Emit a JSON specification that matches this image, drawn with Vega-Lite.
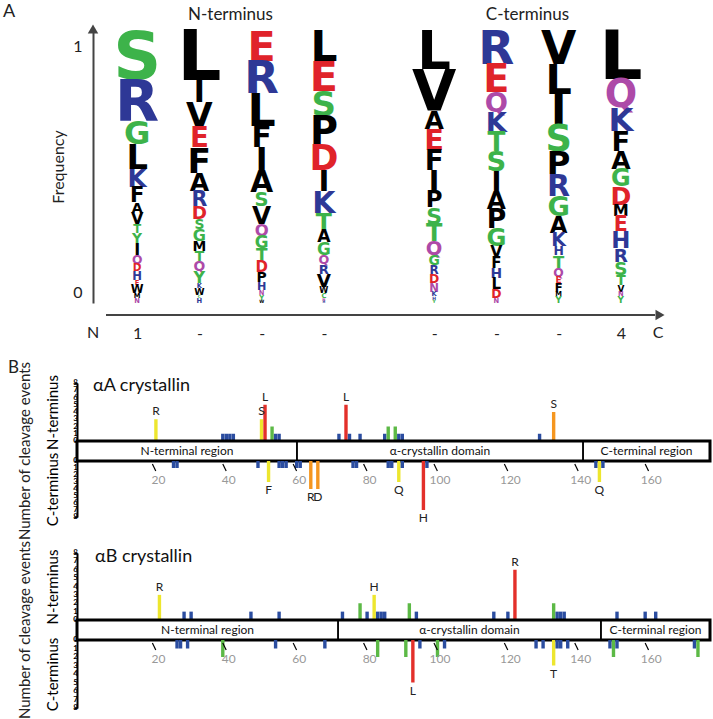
{
  "$schema": "https://vega.github.io/schema/vega-lite/v6.json",
  "padding": {"left": 3, "top": 3, "right": 0, "bottom": 0},
  "autosize": {"type": "pad"},
  "background": "white",
  "config": {
    "view": {"stroke": null},
    "font": "Lato",
    "axis": {"grid": false, "labelFont": "Lato", "titleFont": "Lato"},
    "title": {"font": "Lato"}
  },
  "datasets": {
    "logoN": [
      {"pos": 1, "aa": "S", "freq": 0.178}, {"pos": 1, "aa": "R", "freq": 0.153}, {"pos": 1, "aa": "G", "freq": 0.086}, {"pos": 1, "aa": "L", "freq": 0.090}, {"pos": 1, "aa": "K", "freq": 0.066}, {"pos": 1, "aa": "F", "freq": 0.056}, {"pos": 1, "aa": "A", "freq": 0.039}, {"pos": 1, "aa": "V", "freq": 0.043}, {"pos": 1, "aa": "T", "freq": 0.031}, {"pos": 1, "aa": "Y", "freq": 0.037}, {"pos": 1, "aa": "I", "freq": 0.043}, {"pos": 1, "aa": "Q", "freq": 0.033}, {"pos": 1, "aa": "D", "freq": 0.028}, {"pos": 1, "aa": "H", "freq": 0.031}, {"pos": 1, "aa": "E", "freq": 0.018}, {"pos": 1, "aa": "W", "freq": 0.031}, {"pos": 1, "aa": "M", "freq": 0.018}, {"pos": 1, "aa": "N", "freq": 0.018},
      {"pos": 2, "aa": "L", "freq": 0.184}, {"pos": 2, "aa": "I", "freq": 0.080}, {"pos": 2, "aa": "V", "freq": 0.092}, {"pos": 2, "aa": "E", "freq": 0.074}, {"pos": 2, "aa": "F", "freq": 0.092}, {"pos": 2, "aa": "A", "freq": 0.067}, {"pos": 2, "aa": "R", "freq": 0.055}, {"pos": 2, "aa": "D", "freq": 0.049}, {"pos": 2, "aa": "S", "freq": 0.037}, {"pos": 2, "aa": "G", "freq": 0.043}, {"pos": 2, "aa": "M", "freq": 0.037}, {"pos": 2, "aa": "T", "freq": 0.037}, {"pos": 2, "aa": "Q", "freq": 0.037}, {"pos": 2, "aa": "Y", "freq": 0.043}, {"pos": 2, "aa": "K", "freq": 0.018}, {"pos": 2, "aa": "W", "freq": 0.025}, {"pos": 2, "aa": "C", "freq": 0.012}, {"pos": 2, "aa": "H", "freq": 0.018},
      {"pos": 3, "aa": "E", "freq": 0.110}, {"pos": 3, "aa": "R", "freq": 0.120}, {"pos": 3, "aa": "L", "freq": 0.118}, {"pos": 3, "aa": "F", "freq": 0.079}, {"pos": 3, "aa": "I", "freq": 0.085}, {"pos": 3, "aa": "A", "freq": 0.079}, {"pos": 3, "aa": "S", "freq": 0.052}, {"pos": 3, "aa": "V", "freq": 0.066}, {"pos": 3, "aa": "Q", "freq": 0.044}, {"pos": 3, "aa": "G", "freq": 0.045}, {"pos": 3, "aa": "T", "freq": 0.045}, {"pos": 3, "aa": "D", "freq": 0.040}, {"pos": 3, "aa": "P", "freq": 0.037}, {"pos": 3, "aa": "H", "freq": 0.030}, {"pos": 3, "aa": "N", "freq": 0.018}, {"pos": 3, "aa": "Y", "freq": 0.018}, {"pos": 3, "aa": "W", "freq": 0.012},
      {"pos": 4, "aa": "L", "freq": 0.113}, {"pos": 4, "aa": "E", "freq": 0.110}, {"pos": 4, "aa": "S", "freq": 0.091}, {"pos": 4, "aa": "P", "freq": 0.102}, {"pos": 4, "aa": "D", "freq": 0.093}, {"pos": 4, "aa": "I", "freq": 0.078}, {"pos": 4, "aa": "K", "freq": 0.080}, {"pos": 4, "aa": "T", "freq": 0.063}, {"pos": 4, "aa": "A", "freq": 0.046}, {"pos": 4, "aa": "G", "freq": 0.045}, {"pos": 4, "aa": "Q", "freq": 0.034}, {"pos": 4, "aa": "R", "freq": 0.035}, {"pos": 4, "aa": "V", "freq": 0.049}, {"pos": 4, "aa": "W", "freq": 0.022}, {"pos": 4, "aa": "C", "freq": 0.018}, {"pos": 4, "aa": "N", "freq": 0.010}, {"pos": 4, "aa": "H", "freq": 0.009}
    ],
    "logoC": [
      {"pos": 1, "aa": "L", "freq": 0.141}, {"pos": 1, "aa": "V", "freq": 0.153}, {"pos": 1, "aa": "A", "freq": 0.067}, {"pos": 1, "aa": "E", "freq": 0.077}, {"pos": 1, "aa": "F", "freq": 0.074}, {"pos": 1, "aa": "I", "freq": 0.076}, {"pos": 1, "aa": "P", "freq": 0.061}, {"pos": 1, "aa": "S", "freq": 0.059}, {"pos": 1, "aa": "T", "freq": 0.064}, {"pos": 1, "aa": "Q", "freq": 0.052}, {"pos": 1, "aa": "G", "freq": 0.037}, {"pos": 1, "aa": "R", "freq": 0.032}, {"pos": 1, "aa": "D", "freq": 0.033}, {"pos": 1, "aa": "N", "freq": 0.031}, {"pos": 1, "aa": "K", "freq": 0.018}, {"pos": 1, "aa": "H", "freq": 0.012}, {"pos": 1, "aa": "Y", "freq": 0.012},
      {"pos": 2, "aa": "R", "freq": 0.125}, {"pos": 2, "aa": "E", "freq": 0.102}, {"pos": 2, "aa": "Q", "freq": 0.073}, {"pos": 2, "aa": "K", "freq": 0.073}, {"pos": 2, "aa": "T", "freq": 0.070}, {"pos": 2, "aa": "S", "freq": 0.073}, {"pos": 2, "aa": "I", "freq": 0.071}, {"pos": 2, "aa": "A", "freq": 0.066}, {"pos": 2, "aa": "P", "freq": 0.071}, {"pos": 2, "aa": "G", "freq": 0.065}, {"pos": 2, "aa": "V", "freq": 0.042}, {"pos": 2, "aa": "F", "freq": 0.040}, {"pos": 2, "aa": "H", "freq": 0.037}, {"pos": 2, "aa": "L", "freq": 0.040}, {"pos": 2, "aa": "D", "freq": 0.033}, {"pos": 2, "aa": "N", "freq": 0.018},
      {"pos": 3, "aa": "V", "freq": 0.122}, {"pos": 3, "aa": "L", "freq": 0.110}, {"pos": 3, "aa": "I", "freq": 0.110}, {"pos": 3, "aa": "S", "freq": 0.098}, {"pos": 3, "aa": "P", "freq": 0.086}, {"pos": 3, "aa": "R", "freq": 0.080}, {"pos": 3, "aa": "G", "freq": 0.073}, {"pos": 3, "aa": "A", "freq": 0.061}, {"pos": 3, "aa": "K", "freq": 0.051}, {"pos": 3, "aa": "H", "freq": 0.033}, {"pos": 3, "aa": "T", "freq": 0.044}, {"pos": 3, "aa": "Q", "freq": 0.033}, {"pos": 3, "aa": "E", "freq": 0.024}, {"pos": 3, "aa": "F", "freq": 0.031}, {"pos": 3, "aa": "M", "freq": 0.018}, {"pos": 3, "aa": "Y", "freq": 0.024},
      {"pos": 4, "aa": "L", "freq": 0.180}, {"pos": 4, "aa": "Q", "freq": 0.102}, {"pos": 4, "aa": "K", "freq": 0.086}, {"pos": 4, "aa": "F", "freq": 0.073}, {"pos": 4, "aa": "A", "freq": 0.067}, {"pos": 4, "aa": "G", "freq": 0.064}, {"pos": 4, "aa": "D", "freq": 0.067}, {"pos": 4, "aa": "M", "freq": 0.043}, {"pos": 4, "aa": "E", "freq": 0.055}, {"pos": 4, "aa": "H", "freq": 0.061}, {"pos": 4, "aa": "R", "freq": 0.049}, {"pos": 4, "aa": "S", "freq": 0.049}, {"pos": 4, "aa": "T", "freq": 0.037}, {"pos": 4, "aa": "V", "freq": 0.024}, {"pos": 4, "aa": "N", "freq": 0.018}, {"pos": 4, "aa": "Y", "freq": 0.024}
    ],
    "cleavage": [
      {"protein": "αA", "term": "N", "pos": 21, "aa": "R", "count": 3}, {"protein": "αA", "term": "N", "pos": 40, "aa": "L", "count": 1}, {"protein": "αA", "term": "N", "pos": 41, "aa": "S", "count": 1}, {"protein": "αA", "term": "N", "pos": 42, "aa": "S", "count": 1}, {"protein": "αA", "term": "N", "pos": 43, "aa": "T", "count": 1}, {"protein": "αA", "term": "N", "pos": 51, "aa": "S", "count": 3}, {"protein": "αA", "term": "N", "pos": 52, "aa": "L", "count": 5}, {"protein": "αA", "term": "N", "pos": 54, "aa": "R", "count": 2}, {"protein": "αA", "term": "N", "pos": 55, "aa": "T", "count": 1}, {"protein": "αA", "term": "N", "pos": 56, "aa": "V", "count": 1}, {"protein": "αA", "term": "N", "pos": 73, "aa": "I", "count": 1}, {"protein": "αA", "term": "N", "pos": 75, "aa": "L", "count": 5}, {"protein": "αA", "term": "N", "pos": 76, "aa": "D", "count": 1}, {"protein": "αA", "term": "N", "pos": 79, "aa": "H", "count": 1}, {"protein": "αA", "term": "N", "pos": 86, "aa": "T", "count": 1}, {"protein": "αA", "term": "N", "pos": 87, "aa": "V", "count": 2}, {"protein": "αA", "term": "N", "pos": 89, "aa": "V", "count": 2}, {"protein": "αA", "term": "N", "pos": 90, "aa": "Q", "count": 1}, {"protein": "αA", "term": "N", "pos": 91, "aa": "D", "count": 1}, {"protein": "αA", "term": "N", "pos": 130, "aa": "S", "count": 1}, {"protein": "αA", "term": "N", "pos": 134, "aa": "S", "count": 4},
      {"protein": "αA", "term": "C", "pos": 26, "aa": "F", "count": 1}, {"protein": "αA", "term": "C", "pos": 27, "aa": "F", "count": 1}, {"protein": "αA", "term": "C", "pos": 50, "aa": "Q", "count": 1}, {"protein": "αA", "term": "C", "pos": 53, "aa": "F", "count": 3}, {"protein": "αA", "term": "C", "pos": 56, "aa": "V", "count": 1}, {"protein": "αA", "term": "C", "pos": 57, "aa": "L", "count": 1}, {"protein": "αA", "term": "C", "pos": 58, "aa": "D", "count": 1}, {"protein": "αA", "term": "C", "pos": 61, "aa": "I", "count": 1}, {"protein": "αA", "term": "C", "pos": 62, "aa": "S", "count": 1}, {"protein": "αA", "term": "C", "pos": 65, "aa": "R", "count": 4}, {"protein": "αA", "term": "C", "pos": 67, "aa": "D", "count": 4}, {"protein": "αA", "term": "C", "pos": 77, "aa": "V", "count": 1}, {"protein": "αA", "term": "C", "pos": 78, "aa": "K", "count": 1}, {"protein": "αA", "term": "C", "pos": 87, "aa": "V", "count": 1}, {"protein": "αA", "term": "C", "pos": 88, "aa": "K", "count": 1}, {"protein": "αA", "term": "C", "pos": 90, "aa": "Q", "count": 3}, {"protein": "αA", "term": "C", "pos": 91, "aa": "D", "count": 1}, {"protein": "αA", "term": "C", "pos": 97, "aa": "H", "count": 7}, {"protein": "αA", "term": "C", "pos": 98, "aa": "G", "count": 1}, {"protein": "αA", "term": "C", "pos": 146, "aa": "I", "count": 1}, {"protein": "αA", "term": "C", "pos": 147, "aa": "Q", "count": 3}, {"protein": "αA", "term": "C", "pos": 148, "aa": "T", "count": 1},
      {"protein": "αB", "term": "N", "pos": 22, "aa": "R", "count": 3}, {"protein": "αB", "term": "N", "pos": 29, "aa": "G", "count": 1}, {"protein": "αB", "term": "N", "pos": 31, "aa": "H", "count": 1}, {"protein": "αB", "term": "N", "pos": 48, "aa": "Y", "count": 1}, {"protein": "αB", "term": "N", "pos": 56, "aa": "R", "count": 1}, {"protein": "αB", "term": "N", "pos": 74, "aa": "R", "count": 1}, {"protein": "αB", "term": "N", "pos": 79, "aa": "L", "count": 2}, {"protein": "αB", "term": "N", "pos": 81, "aa": "V", "count": 1}, {"protein": "αB", "term": "N", "pos": 83, "aa": "H", "count": 3}, {"protein": "αB", "term": "N", "pos": 84, "aa": "F", "count": 1}, {"protein": "αB", "term": "N", "pos": 85, "aa": "S", "count": 1}, {"protein": "αB", "term": "N", "pos": 86, "aa": "P", "count": 1}, {"protein": "αB", "term": "N", "pos": 93, "aa": "V", "count": 2}, {"protein": "αB", "term": "N", "pos": 95, "aa": "G", "count": 1}, {"protein": "αB", "term": "N", "pos": 117, "aa": "E", "count": 1}, {"protein": "αB", "term": "N", "pos": 121, "aa": "K", "count": 1}, {"protein": "αB", "term": "N", "pos": 123, "aa": "R", "count": 6}, {"protein": "αB", "term": "N", "pos": 134, "aa": "T", "count": 2}, {"protein": "αB", "term": "N", "pos": 135, "aa": "S", "count": 1}, {"protein": "αB", "term": "N", "pos": 136, "aa": "S", "count": 1}, {"protein": "αB", "term": "N", "pos": 137, "aa": "L", "count": 1}, {"protein": "αB", "term": "N", "pos": 152, "aa": "V", "count": 1}, {"protein": "αB", "term": "N", "pos": 160, "aa": "P", "count": 1}, {"protein": "αB", "term": "N", "pos": 163, "aa": "R", "count": 1},
      {"protein": "αB", "term": "C", "pos": 27, "aa": "F", "count": 1}, {"protein": "αB", "term": "C", "pos": 28, "aa": "F", "count": 1}, {"protein": "αB", "term": "C", "pos": 30, "aa": "E", "count": 1}, {"protein": "αB", "term": "C", "pos": 40, "aa": "T", "count": 2}, {"protein": "αB", "term": "C", "pos": 55, "aa": "L", "count": 1}, {"protein": "αB", "term": "C", "pos": 69, "aa": "R", "count": 1}, {"protein": "αB", "term": "C", "pos": 84, "aa": "F", "count": 2}, {"protein": "αB", "term": "C", "pos": 92, "aa": "K", "count": 2}, {"protein": "αB", "term": "C", "pos": 94, "aa": "L", "count": 5}, {"protein": "αB", "term": "C", "pos": 96, "aa": "D", "count": 1}, {"protein": "αB", "term": "C", "pos": 101, "aa": "H", "count": 2}, {"protein": "αB", "term": "C", "pos": 103, "aa": "K", "count": 1}, {"protein": "αB", "term": "C", "pos": 129, "aa": "D", "count": 1}, {"protein": "αB", "term": "C", "pos": 131, "aa": "L", "count": 1}, {"protein": "αB", "term": "C", "pos": 134, "aa": "T", "count": 3}, {"protein": "αB", "term": "C", "pos": 135, "aa": "S", "count": 1}, {"protein": "αB", "term": "C", "pos": 136, "aa": "S", "count": 1}, {"protein": "αB", "term": "C", "pos": 138, "aa": "S", "count": 1}, {"protein": "αB", "term": "C", "pos": 150, "aa": "K", "count": 1}, {"protein": "αB", "term": "C", "pos": 151, "aa": "Q", "count": 2}, {"protein": "αB", "term": "C", "pos": 152, "aa": "V", "count": 1}, {"protein": "αB", "term": "C", "pos": 174, "aa": "K", "count": 1}, {"protein": "αB", "term": "C", "pos": 175, "aa": "K", "count": 2}
    ],
    "regions": [
      {"protein": "αA", "region": "N-terminal region", "start": 0, "end": 61.5},
      {"protein": "αA", "region": "α-crystallin domain", "start": 61.5, "end": 141.5},
      {"protein": "αA", "region": "C-terminal region", "start": 141.5, "end": 177},
      {"protein": "αB", "region": "N-terminal region", "start": 0, "end": 73},
      {"protein": "αB", "region": "α-crystallin domain", "start": 73, "end": 146.5},
      {"protein": "αB", "region": "C-terminal region", "start": 146.5, "end": 177}
    ],
    "ticks": [{"t": 20}, {"t": 40}, {"t": 60}, {"t": 80}, {"t": 100}, {"t": 120}, {"t": 140}, {"t": 160}],
    "levels": [{"v": 0}, {"v": 1}, {"v": 2}, {"v": 3}, {"v": 4}, {"v": 5}, {"v": 6}, {"v": 7}, {"v": 8}]
  },
  "spacing": 0,
  "bounds": "flush",
  "vconcat": [
    {
      "width": 576, "height": 273,
      "resolve": {"scale": {"x": "independent"}, "axis": {"x": "independent"}},
      "layer": [
        {
          "data": {"name": "logoN"},
          "transform": [
            {"window": [{"op": "row_number", "as": "rank"}]},
            {"stack": "freq", "groupby": ["pos"], "sort": [{"field": "rank", "order": "descending"}], "as": ["y0", "y1"]}
          ],
          "mark": {"type": "text", "font": "DejaVu Sans", "fontWeight": "bold", "baseline": "alphabetic", "align": "center"},
          "encoding": {
            "x": {"field": "pos", "type": "quantitative", "scale": {"domain": [0.0341, 9.2871], "nice": false, "zero": false},
              "axis": {"orient": "bottom", "values": [1, 2, 3, 4], "labelExpr": "datum.value == 1 ? '1' : '-'", "ticks": false, "domain": false, "labelFlush": false, "labelFontSize": 16, "labelPadding": 22, "labelColor": "#222", "title": null}},
            "y": {"field": "y0", "type": "quantitative", "scale": {"domain": [0, 1], "nice": false, "zero": false},
              "axis": {"values": [0.04, 0.94], "labelExpr": "datum.value > 0.5 ? '1' : '0'", "offset": -16, "ticks": false, "domainColor": "#444", "domainWidth": 2, "labelFlush": false, "labelFontSize": 16, "labelPadding": 11, "labelColor": "#222", "title": "Frequency", "titleFontSize": 16, "titleFontWeight": "normal", "titlePadding": 6, "titleColor": "#222"}},
            "size": {"field": "freq", "type": "quantitative", "scale": {"domain": [0, 1], "range": [0, 374.5]}, "legend": null},
            "color": {"field": "aa", "type": "nominal", "legend": null, "scale": {"domain": ["A","V","L","I","P","W","F","M","G","S","T","Y","C","N","Q","K","R","H","D","E"], "range": ["#000000","#000000","#000000","#000000","#000000","#000000","#000000","#000000","#3DB34A","#3DB34A","#3DB34A","#3DB34A","#3DB34A","#AD4AA8","#AD4AA8","#2E3896","#2E3896","#2E3896","#E0232A","#E0232A"]}},
            "text": {"field": "aa"}
          }
        },
        {
          "data": {"name": "logoC"},
          "transform": [
            {"window": [{"op": "row_number", "as": "rank"}]},
            {"stack": "freq", "groupby": ["pos"], "sort": [{"field": "rank", "order": "descending"}], "as": ["y0", "y1"]}
          ],
          "mark": {"type": "text", "font": "DejaVu Sans", "fontWeight": "bold", "baseline": "alphabetic", "align": "center"},
          "encoding": {
            "x": {"field": "pos", "type": "quantitative", "scale": {"domain": [-4.7369, 4.5161], "nice": false, "zero": false},
              "axis": {"orient": "bottom", "values": [1, 2, 3, 4], "labelExpr": "datum.value == 4 ? '4' : '-'", "ticks": false, "domain": false, "labelFlush": false, "labelFontSize": 16, "labelPadding": 22, "labelColor": "#222", "title": null}},
            "y": {"field": "y0", "type": "quantitative", "scale": {"domain": [0, 1], "nice": false, "zero": false},
              "axis": {"values": [0.04, 0.94], "labelExpr": "datum.value > 0.5 ? '1' : '0'", "offset": -16, "ticks": false, "domainColor": "#444", "domainWidth": 2, "labelFlush": false, "labelFontSize": 16, "labelPadding": 11, "labelColor": "#222", "title": "Frequency", "titleFontSize": 16, "titleFontWeight": "normal", "titlePadding": 6, "titleColor": "#222"}},
            "size": {"field": "freq", "type": "quantitative", "scale": {"domain": [0, 1], "range": [0, 374.5]}, "legend": null},
            "color": {"field": "aa", "type": "nominal", "legend": null, "scale": {"domain": ["A","V","L","I","P","W","F","M","G","S","T","Y","C","N","Q","K","R","H","D","E"], "range": ["#000000","#000000","#000000","#000000","#000000","#000000","#000000","#000000","#3DB34A","#3DB34A","#3DB34A","#3DB34A","#3DB34A","#AD4AA8","#AD4AA8","#2E3896","#2E3896","#2E3896","#E0232A","#E0232A"]}},
            "text": {"field": "aa"}
          }
        },
        {
          "data": {"values": [{}]},
          "mark": {"type": "point", "shape": "triangle-up", "filled": true, "color": "#444", "size": 110, "opacity": 1, "xOffset": -13, "yOffset": -1},
          "encoding": {"x": {"datum": 0.5, "scale": {"domain": [0.0341, 9.2871], "nice": false, "zero": false}, "axis": null}, "y": {"datum": 1}}
        },
        {
          "data": {"values": [{}]},
          "mark": {"type": "rule", "color": "#444", "strokeWidth": 2, "yOffset": 12},
          "encoding": {"x": {"datum": 0.5, "scale": {"domain": [0.0341, 9.2871], "nice": false, "zero": false}, "axis": null}, "x2": {"datum": 9.32}, "y": {"datum": 0}}
        },
        {
          "data": {"values": [{}]},
          "mark": {"type": "point", "shape": "triangle-right", "filled": true, "color": "#444", "size": 110, "opacity": 1, "yOffset": 12},
          "encoding": {"x": {"datum": 9.4, "scale": {"domain": [0.0341, 9.2871], "nice": false, "zero": false}, "axis": null}, "y": {"datum": 0}}
        },
        {
          "data": {"values": [{"t": "N"}]},
          "mark": {"type": "text", "fontSize": 16, "color": "#222", "baseline": "middle", "align": "center", "xOffset": -13, "yOffset": 30},
          "encoding": {"x": {"datum": 0.5, "scale": {"domain": [0.0341, 9.2871], "nice": false, "zero": false}, "axis": null}, "y": {"datum": 0}, "text": {"field": "t"}}
        },
        {
          "data": {"values": [{"t": "C"}]},
          "mark": {"type": "text", "fontSize": 16, "color": "#222", "baseline": "middle", "align": "center", "xOffset": 6, "yOffset": 30},
          "encoding": {"x": {"datum": 4.5, "scale": {"domain": [-4.7369, 4.5161], "nice": false, "zero": false}, "axis": null}, "y": {"datum": 0}, "text": {"field": "t"}}
        },
        {
          "data": {"values": [{"t": "N-terminus"}]},
          "mark": {"type": "text", "fontSize": 17, "color": "#222", "baseline": "middle", "align": "center", "yOffset": -15},
          "encoding": {"x": {"datum": 2.5, "scale": {"domain": [0.0341, 9.2871], "nice": false, "zero": false}, "axis": null}, "y": {"datum": 1}, "text": {"field": "t"}}
        },
        {
          "data": {"values": [{"t": "C-terminus"}]},
          "mark": {"type": "text", "fontSize": 17, "color": "#222", "baseline": "middle", "align": "center", "yOffset": -15},
          "encoding": {"x": {"datum": 2.5, "scale": {"domain": [-4.7369, 4.5161], "nice": false, "zero": false}, "axis": null}, "y": {"datum": 1}, "text": {"field": "t"}}
        },
        {
          "data": {"values": [{"t": "A"}]},
          "mark": {"type": "text", "fontSize": 18, "color": "#222", "baseline": "middle", "align": "left", "xOffset": -103, "yOffset": -18},
          "encoding": {"x": {"datum": 0.5, "scale": {"domain": [0.0341, 9.2871], "nice": false, "zero": false}, "axis": null}, "y": {"datum": 1}, "text": {"field": "t"}}
        }
      ]
    },
    {"width": 633, "height": 80, "data": {"values": [{}]}, "mark": {"type": "text"}, "encoding": {"text": {"value": ""}}},
    {
      "width": 633, "height": 58,
      "layer": [
        {
          "data": {"name": "cleavage"},
          "transform": [{"filter": "datum.protein == 'αA' && datum.term == 'N'"}],
          "mark": {"type": "bar", "width": 3.4},
          "encoding": {
            "x": {"field": "pos", "type": "quantitative", "scale": {"domain": [0, 177], "nice": false, "zero": false}, "axis": null},
            "y": {"field": "count", "type": "quantitative", "scale": {"domain": [0, 8], "nice": false},
              "axis": {"values": [0,1,2,3,4,5,6,7,8], "labels": false, "tickSize": 3, "tickColor": "black", "domainColor": "black", "domainWidth": 2, "title": "N-terminus", "titleFontSize": 15, "titleFontWeight": "normal", "titleColor": "black", "titlePadding": 13}},
            "color": {"field": "count", "type": "quantitative", "legend": null, "scale": {"type": "threshold", "domain": [2, 3, 4, 5], "range": ["#2B4DA0", "#5CB946", "#EDE62E", "#F5961F", "#E3302A"]}}
          }
        },
        {
          "data": {"name": "levels"},
          "mark": {"type": "text", "align": "right", "baseline": "middle", "fontSize": 8, "fontWeight": "bold", "color": "black", "xOffset": -4},
          "encoding": {"x": {"datum": 0}, "y": {"field": "v", "type": "quantitative"}, "text": {"field": "v", "type": "quantitative"}}
        },
        {
          "data": {"name": "cleavage"},
          "transform": [{"filter": "datum.protein == 'αA' && datum.term == 'N' && datum.count >= 3"}],
          "mark": {"type": "text", "baseline": "bottom", "dy": -1, "fontSize": 12, "color": "#222"},
          "encoding": {"x": {"field": "pos", "type": "quantitative"}, "y": {"field": "count", "type": "quantitative"}, "text": {"field": "aa"}}
        },
        {
          "data": {"values": [{"t": "αA crystallin"}]},
          "mark": {"type": "text", "align": "left", "baseline": "middle", "fontSize": 18, "color": "#111", "xOffset": 11, "yOffset": 3},
          "encoding": {"x": {"datum": 0}, "y": {"datum": 8}, "text": {"field": "t"}}
        },
        {
          "data": {"values": [{"t": "B"}]},
          "mark": {"type": "text", "align": "left", "baseline": "middle", "fontSize": 17, "color": "#222", "xOffset": -74, "yOffset": -15},
          "encoding": {"x": {"datum": 0}, "y": {"datum": 8}, "text": {"field": "t"}}
        }
      ]
    },
    {
      "width": 633, "height": 20,
      "view": {"stroke": "black", "strokeWidth": 3},
      "layer": [
        {
          "data": {"name": "regions"},
          "transform": [{"filter": "datum.protein == 'αA'"}],
          "mark": {"type": "rect", "fillOpacity": 0, "stroke": "black", "strokeWidth": 1.5},
          "encoding": {"x": {"field": "start", "type": "quantitative", "scale": {"domain": [0, 177], "nice": false, "zero": false}, "axis": null}, "x2": {"field": "end"}}
        },
        {
          "data": {"name": "regions"},
          "transform": [{"filter": "datum.protein == 'αA'"}, {"calculate": "(datum.start + datum.end) / 2", "as": "mid"}],
          "mark": {"type": "text", "fontSize": 12, "color": "#111"},
          "encoding": {"x": {"field": "mid", "type": "quantitative"}, "text": {"field": "region"}}
        },
        {
          "data": {"values": [{"t": "Number of cleavage events"}]},
          "mark": {"type": "text", "angle": 270, "fontSize": 15, "color": "#222", "xOffset": -52},
          "encoding": {"x": {"datum": 0}, "text": {"field": "t"}}
        }
      ]
    },
    {
      "width": 633, "height": 56,
      "layer": [
        {
          "data": {"name": "cleavage"},
          "transform": [{"filter": "datum.protein == 'αA' && datum.term == 'C'"}],
          "mark": {"type": "bar", "width": 3.4},
          "encoding": {
            "x": {"field": "pos", "type": "quantitative", "scale": {"domain": [0, 177], "nice": false, "zero": false}, "axis": null},
            "y": {"field": "count", "type": "quantitative", "scale": {"domain": [0, 8], "nice": false, "reverse": true},
              "axis": {"values": [0,1,2,3,4,5,6,7,8], "labels": false, "tickSize": 3, "tickColor": "black", "domainColor": "black", "domainWidth": 2, "title": "C-terminus", "titleFontSize": 15, "titleFontWeight": "normal", "titleColor": "black", "titlePadding": 13}},
            "color": {"field": "count", "type": "quantitative", "legend": null, "scale": {"type": "threshold", "domain": [2, 3, 4, 5], "range": ["#2B4DA0", "#5CB946", "#EDE62E", "#F5961F", "#E3302A"]}}
          }
        },
        {
          "data": {"name": "levels"},
          "mark": {"type": "text", "align": "right", "baseline": "middle", "fontSize": 8, "fontWeight": "bold", "color": "black", "xOffset": -4},
          "encoding": {"x": {"datum": 0}, "y": {"field": "v", "type": "quantitative"}, "text": {"field": "v", "type": "quantitative"}}
        },
        {
          "data": {"name": "cleavage"},
          "transform": [{"filter": "datum.protein == 'αA' && datum.term == 'C' && datum.count >= 3"}],
          "mark": {"type": "text", "baseline": "top", "dy": 3, "fontSize": 12, "color": "#222"},
          "encoding": {"x": {"field": "pos", "type": "quantitative"}, "y": {"field": "count", "type": "quantitative"}, "text": {"field": "aa"}}
        },
        {
          "data": {"name": "ticks"},
          "mark": {"type": "rule", "color": "black", "strokeWidth": 1.2, "x2Offset": 3.4, "yOffset": 3, "y2Offset": 10},
          "encoding": {"x": {"field": "t", "type": "quantitative"}, "x2": {"field": "t"}, "y": {"datum": 0}, "y2": {"datum": 0}}
        },
        {
          "data": {"name": "ticks"},
          "mark": {"type": "text", "fontSize": 12, "color": "#999", "baseline": "middle", "align": "center", "xOffset": 6, "yOffset": 19},
          "encoding": {"x": {"field": "t", "type": "quantitative"}, "y": {"datum": 0}, "text": {"field": "t", "type": "quantitative"}}
        }
      ]
    },
    {"width": 633, "height": 36, "data": {"values": [{}]}, "mark": {"type": "text"}, "encoding": {"text": {"value": ""}}},
    {
      "width": 633, "height": 67,
      "layer": [
        {
          "data": {"name": "cleavage"},
          "transform": [{"filter": "datum.protein == 'αB' && datum.term == 'N'"}],
          "mark": {"type": "bar", "width": 3.4},
          "encoding": {
            "x": {"field": "pos", "type": "quantitative", "scale": {"domain": [0, 177], "nice": false, "zero": false}, "axis": null},
            "y": {"field": "count", "type": "quantitative", "scale": {"domain": [0, 8], "nice": false},
              "axis": {"values": [0,1,2,3,4,5,6,7,8], "labels": false, "tickSize": 3, "tickColor": "black", "domainColor": "black", "domainWidth": 2, "title": "N-terminus", "titleFontSize": 15, "titleFontWeight": "normal", "titleColor": "black", "titlePadding": 13}},
            "color": {"field": "count", "type": "quantitative", "legend": null, "scale": {"type": "threshold", "domain": [2, 3, 4, 5], "range": ["#2B4DA0", "#5CB946", "#EDE62E", "#F5961F", "#E3302A"]}}
          }
        },
        {
          "data": {"name": "levels"},
          "mark": {"type": "text", "align": "right", "baseline": "middle", "fontSize": 8, "fontWeight": "bold", "color": "black", "xOffset": -4},
          "encoding": {"x": {"datum": 0}, "y": {"field": "v", "type": "quantitative"}, "text": {"field": "v", "type": "quantitative"}}
        },
        {
          "data": {"name": "cleavage"},
          "transform": [{"filter": "datum.protein == 'αB' && datum.term == 'N' && datum.count >= 3"}],
          "mark": {"type": "text", "baseline": "bottom", "dy": -1, "fontSize": 12, "color": "#222"},
          "encoding": {"x": {"field": "pos", "type": "quantitative"}, "y": {"field": "count", "type": "quantitative"}, "text": {"field": "aa"}}
        },
        {
          "data": {"values": [{"t": "αB crystallin"}]},
          "mark": {"type": "text", "align": "left", "baseline": "middle", "fontSize": 18, "color": "#111", "xOffset": 13, "yOffset": 4},
          "encoding": {"x": {"datum": 0}, "y": {"datum": 8}, "text": {"field": "t"}}
        }
      ]
    },
    {
      "width": 633, "height": 20,
      "view": {"stroke": "black", "strokeWidth": 3},
      "layer": [
        {
          "data": {"name": "regions"},
          "transform": [{"filter": "datum.protein == 'αB'"}],
          "mark": {"type": "rect", "fillOpacity": 0, "stroke": "black", "strokeWidth": 1.5},
          "encoding": {"x": {"field": "start", "type": "quantitative", "scale": {"domain": [0, 177], "nice": false, "zero": false}, "axis": null}, "x2": {"field": "end"}}
        },
        {
          "data": {"name": "regions"},
          "transform": [{"filter": "datum.protein == 'αB'"}, {"calculate": "(datum.start + datum.end) / 2", "as": "mid"}],
          "mark": {"type": "text", "fontSize": 12, "color": "#111"},
          "encoding": {"x": {"field": "mid", "type": "quantitative"}, "text": {"field": "region"}}
        },
        {
          "data": {"values": [{"t": "Number of cleavage events"}]},
          "mark": {"type": "text", "angle": 270, "fontSize": 15, "color": "#222", "xOffset": -52},
          "encoding": {"x": {"datum": 0}, "text": {"field": "t"}}
        }
      ]
    },
    {
      "width": 633, "height": 68,
      "layer": [
        {
          "data": {"name": "cleavage"},
          "transform": [{"filter": "datum.protein == 'αB' && datum.term == 'C'"}],
          "mark": {"type": "bar", "width": 3.4},
          "encoding": {
            "x": {"field": "pos", "type": "quantitative", "scale": {"domain": [0, 177], "nice": false, "zero": false}, "axis": null},
            "y": {"field": "count", "type": "quantitative", "scale": {"domain": [0, 8], "nice": false, "reverse": true},
              "axis": {"values": [0,1,2,3,4,5,6,7,8], "labels": false, "tickSize": 3, "tickColor": "black", "domainColor": "black", "domainWidth": 2, "title": "C-terminus", "titleFontSize": 15, "titleFontWeight": "normal", "titleColor": "black", "titlePadding": 13}},
            "color": {"field": "count", "type": "quantitative", "legend": null, "scale": {"type": "threshold", "domain": [2, 3, 4, 5], "range": ["#2B4DA0", "#5CB946", "#EDE62E", "#F5961F", "#E3302A"]}}
          }
        },
        {
          "data": {"name": "levels"},
          "mark": {"type": "text", "align": "right", "baseline": "middle", "fontSize": 8, "fontWeight": "bold", "color": "black", "xOffset": -4},
          "encoding": {"x": {"datum": 0}, "y": {"field": "v", "type": "quantitative"}, "text": {"field": "v", "type": "quantitative"}}
        },
        {
          "data": {"name": "cleavage"},
          "transform": [{"filter": "datum.protein == 'αB' && datum.term == 'C' && datum.count >= 3"}],
          "mark": {"type": "text", "baseline": "top", "dy": 3, "fontSize": 12, "color": "#222"},
          "encoding": {"x": {"field": "pos", "type": "quantitative"}, "y": {"field": "count", "type": "quantitative"}, "text": {"field": "aa"}}
        },
        {
          "data": {"name": "ticks"},
          "mark": {"type": "rule", "color": "black", "strokeWidth": 1.2, "x2Offset": 3.4, "yOffset": 3, "y2Offset": 10},
          "encoding": {"x": {"field": "t", "type": "quantitative"}, "x2": {"field": "t"}, "y": {"datum": 0}, "y2": {"datum": 0}}
        },
        {
          "data": {"name": "ticks"},
          "mark": {"type": "text", "fontSize": 12, "color": "#999", "baseline": "middle", "align": "center", "xOffset": 6, "yOffset": 19},
          "encoding": {"x": {"field": "t", "type": "quantitative"}, "y": {"datum": 0}, "text": {"field": "t", "type": "quantitative"}}
        }
      ]
    }
  ]
}
